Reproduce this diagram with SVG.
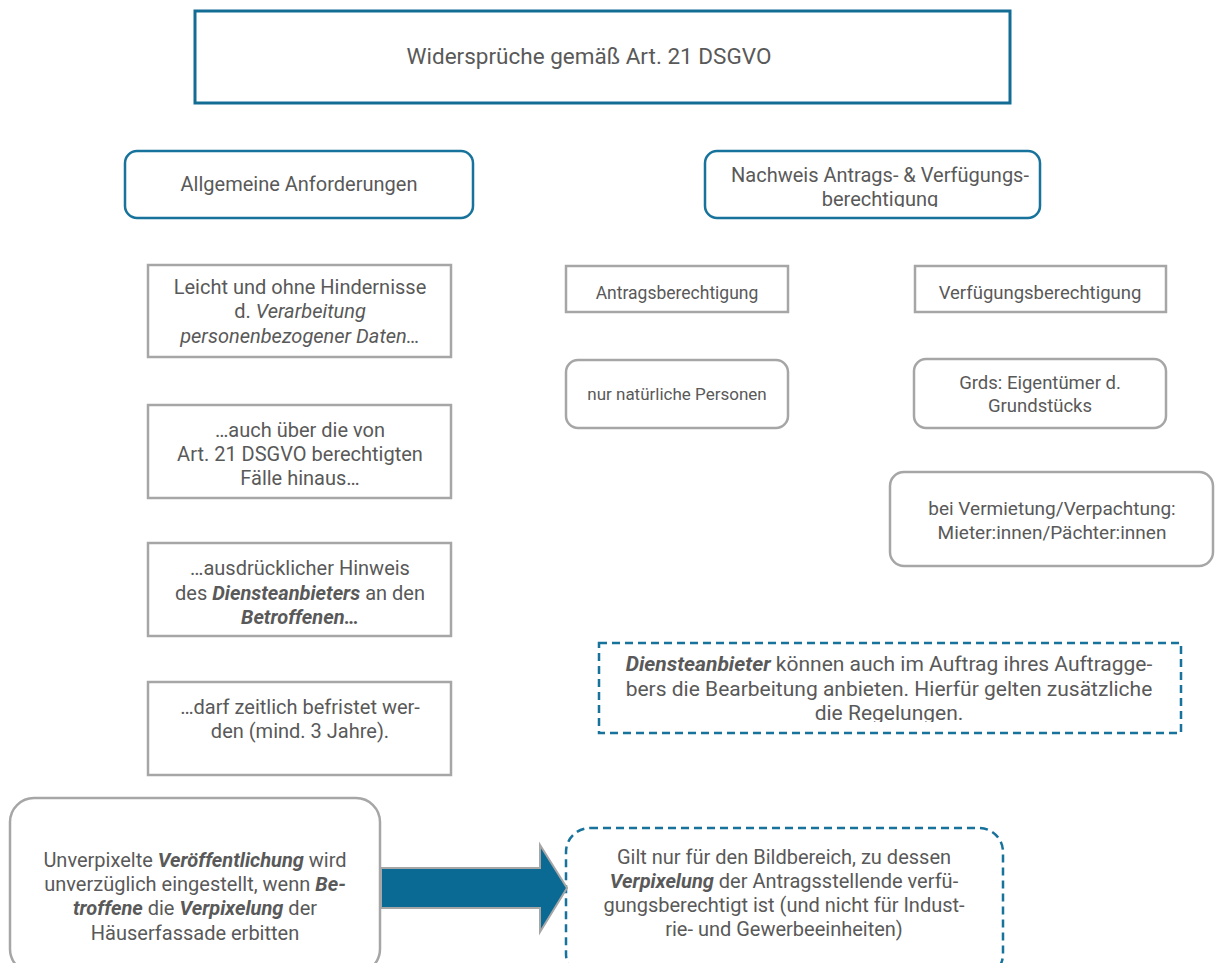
<svg xmlns="http://www.w3.org/2000/svg" width="1215" height="963" viewBox="0 0 1215 963">
<style>
.t{font-family:Roboto,"Liberation Sans",sans-serif;font-size:20px;fill:#595959;text-anchor:middle}
.blue{fill:#fff;stroke:#17729c;stroke-width:2.5}
.gray{fill:#fff;stroke:#a6a6a6;stroke-width:2.5}
.dash{fill:#fff;stroke:#17729c;stroke-width:2.5;stroke-dasharray:8 5}
.i{font-style:italic}
.bi{font-style:italic;font-weight:bold}
</style>
<defs>
<clipPath id="c1"><rect x="705" y="150" width="336" height="57"/></clipPath>
<clipPath id="c2"><rect x="599" y="643" width="583" height="79"/></clipPath>
</defs>
<rect width="1215" height="963" fill="#fff"/>
<g id="title">
<rect x="195" y="11" width="815" height="92" fill="#fff" stroke="#136c94" stroke-width="3"/>
<text class="t" x="589" y="64" style="font-size:22.5px">Widersprüche gemäß Art. 21 DSGVO</text>
</g>
<g id="allgemein">
<rect class="blue" x="125" y="151" width="348" height="67" rx="12"/>
<text class="t" x="299" y="191">Allgemeine Anforderungen</text>
</g>
<g id="nachweis">
<rect class="blue" x="705" y="151" width="335" height="67" rx="12"/>
<g clip-path="url(#c1)">
<text class="t" x="880" y="182">Nachweis Antrags- &amp; Verfügungs-</text>
<text class="t" x="880" y="206">berechtigung</text>
</g>
</g>
<g id="leicht">
<rect class="gray" x="148" y="265" width="303" height="92"/>
<text class="t" x="300" y="294">Leicht und ohne Hindernisse</text>
<text class="t" x="300" y="318">d. <tspan class="i">Verarbeitung</tspan></text>
<text class="t" x="300" y="343"><tspan class="i">personenbezogener Daten…</tspan></text>
</g>
<g id="auch">
<rect class="gray" x="148" y="405" width="303" height="93"/>
<text class="t" x="300" y="437">…auch über die von</text>
<text class="t" x="300" y="461">Art. 21 DSGVO berechtigten</text>
<text class="t" x="300" y="485">Fälle hinaus…</text>
</g>
<g id="hinweis">
<rect class="gray" x="148" y="543" width="303" height="93"/>
<text class="t" x="300" y="575">…ausdrücklicher Hinweis</text>
<text class="t" x="300" y="600">des <tspan class="bi">Diensteanbieters</tspan> an den</text>
<text class="t" x="300" y="624"><tspan class="bi">Betroffenen…</tspan></text>
</g>
<g id="befristet">
<rect class="gray" x="148" y="682" width="303" height="93"/>
<text class="t" x="300" y="714">…darf zeitlich befristet wer-</text>
<text class="t" x="300" y="738">den (mind. 3 Jahre).</text>
</g>
<g id="antrag">
<rect class="gray" x="566" y="266" width="222" height="46"/>
<text class="t" x="677" y="299" style="font-size:17.5px">Antragsberechtigung</text>
</g>
<g id="verfuegung">
<rect class="gray" x="915" y="266" width="251" height="46"/>
<text class="t" x="1040" y="299" style="font-size:18.5px">Verfügungsberechtigung</text>
</g>
<g id="natuerlich">
<rect class="gray" x="566" y="360" width="222" height="68" rx="12"/>
<text class="t" x="677" y="400" style="font-size:17px">nur natürliche Personen</text>
</g>
<g id="grds">
<rect class="gray" x="914" y="359" width="252" height="69" rx="12"/>
<text class="t" x="1040" y="389" style="font-size:18.5px">Grds: Eigentümer d.</text>
<text class="t" x="1040" y="412" style="font-size:18.5px">Grundstücks</text>
</g>
<g id="vermietung">
<rect class="gray" x="890" y="472" width="323" height="94" rx="14"/>
<text class="t" x="1052" y="515" style="font-size:19px">bei Vermietung/Verpachtung:</text>
<text class="t" x="1052" y="539" style="font-size:19px">Mieter:innen/Pächter:innen</text>
</g>
<g id="dienste">
<rect class="dash" x="599" y="643" width="582" height="90"/>
<g clip-path="url(#c2)">
<text class="t" x="889" y="671" style="font-size:21px"><tspan class="bi">Diensteanbieter</tspan> können auch im Auftrag ihres Auftragge-</text>
<text class="t" x="889" y="696" style="font-size:21px">bers die Bearbeitung anbieten. Hierfür gelten zusätzliche</text>
<text class="t" x="889" y="720" style="font-size:21px">die Regelungen.</text>
</g>
</g>
<g id="unverpixelt">
<rect class="gray" x="10" y="798" width="370" height="175" rx="24"/>
<text class="t" x="195" y="867">Unverpixelte <tspan class="bi">Veröffentlichung</tspan> wird</text>
<text class="t" x="195" y="891">unverzüglich eingestellt, wenn <tspan class="bi">Be-</tspan></text>
<text class="t" x="195" y="915"><tspan class="bi">troffene</tspan> die <tspan class="bi">Verpixelung</tspan> der</text>
<text class="t" x="195" y="940">Häuserfassade erbitten</text>
</g>
<g id="gilt">
<rect class="dash" x="566" y="828" width="437" height="150" rx="24"/>
<text class="t" x="784" y="864">Gilt nur für den Bildbereich, zu dessen</text>
<text class="t" x="784" y="888"><tspan class="bi">Verpixelung</tspan> der Antragsstellende verfü-</text>
<text class="t" x="784" y="912">gungsberechtigt ist (und nicht für Indust-</text>
<text class="t" x="784" y="936">rie- und Gewerbeeinheiten)</text>
</g>
<g id="connectors">
<polygon points="381,868 540,868 540,845 567,888 540,932 540,908 381,908" fill="#0a6a94" stroke="#a6a6a6" stroke-width="2"/>
</g>
</svg>
